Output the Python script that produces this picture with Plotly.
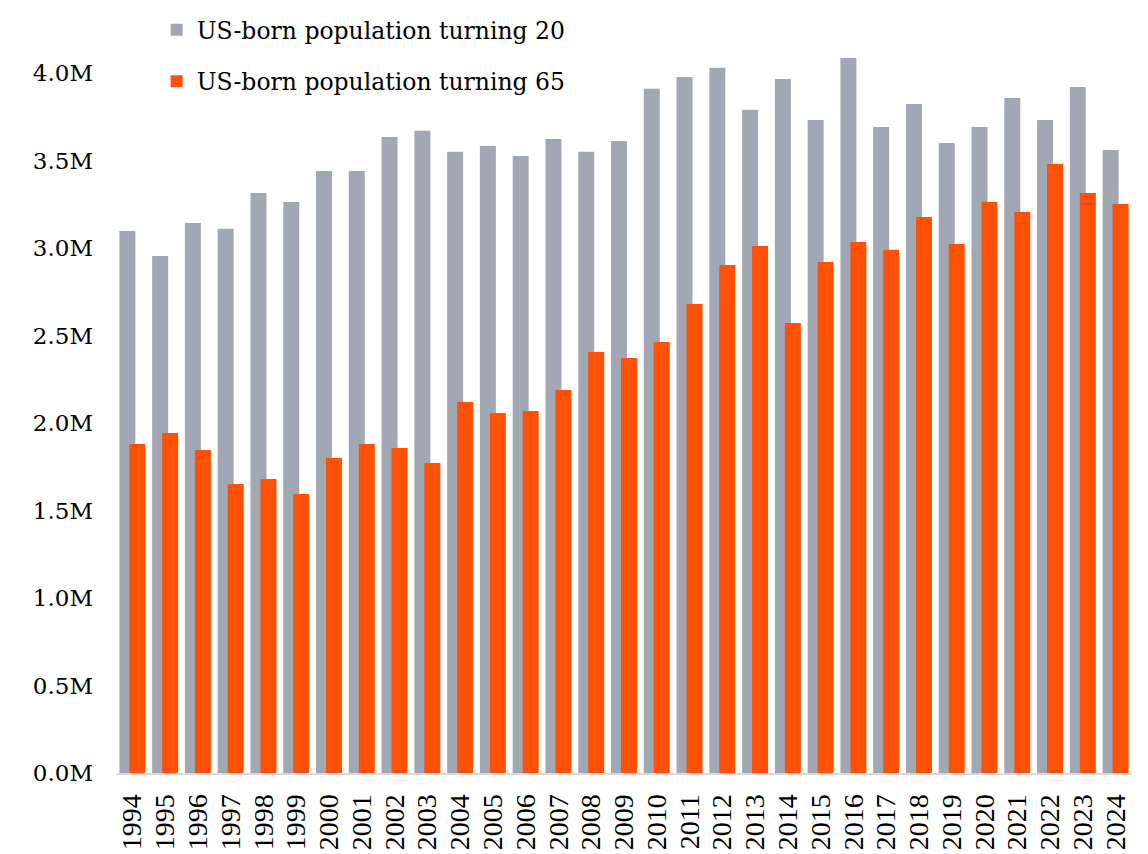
import plotly.graph_objects as go

years = [str(y) for y in range(1994, 2025)]
turning_20 = [3.097, 2.954, 3.143, 3.109, 3.314, 3.263, 3.440, 3.440, 3.634, 3.669,
              3.549, 3.583, 3.526, 3.623, 3.549, 3.611, 3.909, 3.977, 4.029, 3.789,
              3.966, 3.731, 4.086, 3.691, 3.823, 3.600, 3.691, 3.857, 3.731, 3.920, 3.560]
turning_65 = [1.880, 1.943, 1.846, 1.651, 1.680, 1.594, 1.800, 1.880, 1.857, 1.771,
              2.120, 2.057, 2.069, 2.189, 2.406, 2.371, 2.463, 2.680, 2.903, 3.011,
              2.571, 2.920, 3.034, 2.989, 3.177, 3.023, 3.263, 3.206, 3.480, 3.314, 3.251]
y_ticks = [0, 0.5, 1.0, 1.5, 2.0, 2.5, 3.0, 3.5, 4.0]
y_tick_labels = ["0.0M", "0.5M", "1.0M", "1.5M", "2.0M", "2.5M", "3.0M", "3.5M", "4.0M"]

fig = go.Figure()
fig.add_trace(go.Bar(
    x=years, y=turning_20, name="US-born population turning 20",
    marker=dict(color="#A2A8B3", line=dict(width=0)),
    width=0.488, offset=-0.397, legendgroup="a",
))
fig.add_trace(go.Bar(
    x=years, y=turning_65, name="US-born population turning 65",
    marker=dict(color="#FF5008", line=dict(width=0)),
    width=0.488, offset=-0.092, legendgroup="b",
))

fig.update_layout(
    width=1140, height=846,
    barmode="overlay",
    plot_bgcolor="white", paper_bgcolor="white",
    margin=dict(l=108, r=16, t=0, b=81, autoexpand=False),
    font=dict(family="DejaVu Serif", color="#000000", size=24),
    legend=dict(
        x=0.040, xanchor="left", y=1.0, yanchor="top",
        font=dict(family="DejaVu Serif", size=23.5, color="#000000"),
        tracegroupgap=18, bgcolor="rgba(0,0,0,0)",
    ),
    showlegend=True,
)
fig.update_xaxes(
    type="category", showgrid=False, showline=True, linecolor="#D9D9D9", linewidth=2,
    tickmode="linear", tick0=0, dtick=1,
    tickangle=-90, ticks="", ticklabelstandoff=8,
    tickfont=dict(family="Liberation Serif", size=28, color="#000000"),
)
fig.update_yaxes(
    range=[0, 4.371], showgrid=False, zeroline=False, showline=False,
    tickvals=y_ticks, ticktext=y_tick_labels, ticks="", ticklabelstandoff=22,
    tickfont=dict(family="DejaVu Serif", size=23, color="#000000"),
)

fig.write_html("out.html")
